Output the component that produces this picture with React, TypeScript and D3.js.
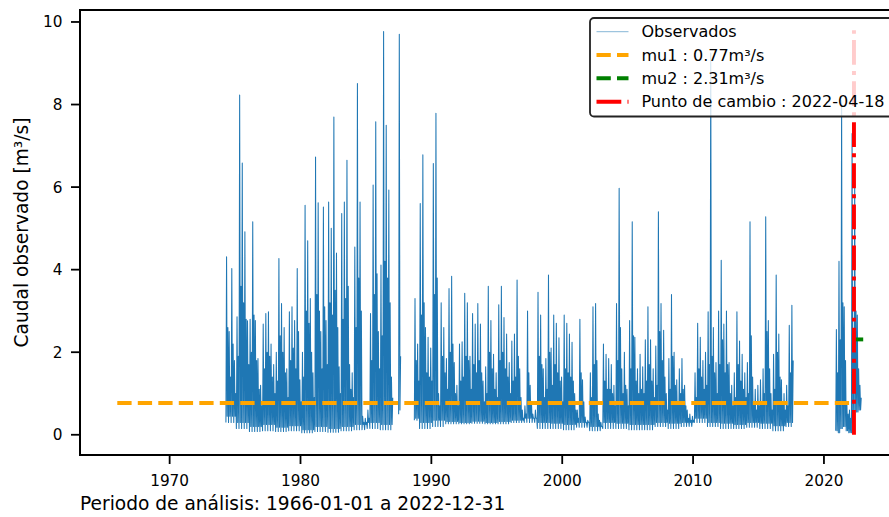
import React, { useEffect, useRef } from 'react';
import * as d3 from 'd3';

// Observed flow, 1974.3 - 2017.7, 0.2-year bins (null = no data)
const obsStart1 = 1974.3;
const binStep = 0.2;
// highest value in each bin
const peaks1: (number | null)[] = [
  4.31, 2.5, 4.03, 1.8, 2.86, 8.23, 6.58, 4.92, 2.76, 2.8,
  5.16, 2.77, 1.85, 1.2, 2.68, 2.94, 2.98, 2.2, 1.7, 2.0,
  4.27, 3.18, 2.6, 1.6, 2.98, 3.1, 2.77, 4.03, 1.33, 2.0,
  5.56, 4.7, 3.3, 1.5, 6.73, 5.62, 2.5, 5.52, 2.77, 5.64,
  5.0, 7.7, 4.4, 1.65, 5.36, 5.64, 6.65, 1.7, 1.5, 4.55,
  8.51, 5.64, 0.45, 0.4, 0.6, 2.94, 6.05, 7.58, 2.5, 4.11,
  9.77, 7.5, 5.93, 1.4, null, null, 9.7, null, null, null,
  null, null, 3.3, 2.2, 5.6, 6.78, 2.6, 2.36, 2.1, 6.57,
  7.79, 1.0, 3.2, 2.6, 1.85, 3.54, 3.84, 1.75, 1.2, 2.2,
  2.25, 3.43, 3.2, 1.9, 2.94, 2.68, 3.18, 2.68, 1.3, 1.65,
  3.6, 2.77, 1.95, 1.5, 3.15, 3.6, 2.84, 2.44, 1.75, 2.27,
  2.44, 3.75, 1.6, 0.6, 0.7, 3.0, 1.2, 0.5, 0.6, 3.45,
  2.9, 1.6, 1.85, 3.87, 2.1, 2.9, 2.7, 2.35, 1.4, 2.9,
  2.7, 2.44, 2.24, 1.0, 0.6, 2.8, 1.33, 0.43, 0.35, 1.5,
  3.1, 3.18, 0.5, 0.3, 2.2, 1.95, 1.85, 1.7, 1.2, 3.18,
  5.97, 1.6, 2.0, 1.1, 2.77, 5.16, 2.36, 1.6, 1.95, 1.65,
  2.3, 3.1, 2.3, 1.6, 2.15, 5.4, 3.18, 2.53, 1.0, 1.85,
  3.4, 2.0, 1.33, 1.6, 1.85, 1.2, 0.6, 0.5, 0.45, 1.5,
  2.7, 2.36, 1.8, 2.0, 2.98, 9.25, 2.6, 1.75, 3.0, 4.23,
  2.68, 3.0, 1.75, 1.2, 1.5, 2.98, 2.27, 1.95, 1.5, 1.75,
  5.16, 1.4, 1.1, 1.2, 1.33, 1.6, 5.28, 2.77, 1.0, 1.95,
  3.87, 2.44, 1.33, 1.0, 1.2, 2.65, 3.14,
];
// second-highest (typical high-flow) value in each bin
const cores1: (number | null)[] = [
  2.6, 1.4, 2.2, 1.0, 1.9, 3.6, 3.2, 2.8, 1.7, 2.0,
  2.9, 1.8, 1.1, 0.7, 1.6, 2.0, 1.9, 1.4, 1.0, 1.3,
  2.4, 2.0, 1.5, 0.9, 1.8, 2.1, 1.6, 2.5, 0.8, 1.4,
  3.0, 2.7, 2.0, 0.9, 3.4, 3.0, 1.6, 3.1, 1.7, 3.2,
  2.9, 3.5, 2.6, 1.0, 2.8, 3.3, 3.6, 1.1, 0.9, 2.6,
  3.8, 3.0, 0.3, 0.3, 0.4, 1.8, 3.4, 3.9, 1.6, 2.4,
  4.2, 3.8, 3.2, 0.9, null, null, 1.9, null, null, null,
  null, null, 1.8, 1.3, 2.9, 3.2, 1.5, 1.4, 1.3, 3.4,
  3.8, 0.7, 1.9, 1.5, 1.1, 2.0, 2.2, 1.0, 0.7, 1.3,
  1.4, 1.9, 1.8, 1.1, 1.7, 1.5, 1.8, 1.5, 0.8, 1.0,
  2.0, 1.6, 1.1, 0.9, 1.8, 2.0, 1.6, 1.4, 1.0, 1.3,
  1.4, 1.9, 0.9, 0.4, 0.5, 1.5, 0.8, 0.4, 0.4, 1.9,
  1.7, 0.9, 1.1, 2.0, 1.2, 1.7, 1.5, 1.3, 0.8, 1.6,
  1.5, 1.4, 1.3, 0.6, 0.4, 1.5, 0.8, 0.3, 0.3, 0.9,
  1.7, 1.8, 0.35, 0.2, 1.3, 1.1, 1.1, 1.0, 0.7, 1.8,
  2.6, 1.0, 1.2, 0.7, 1.6, 2.4, 1.3, 1.0, 1.1, 1.0,
  1.3, 1.7, 1.3, 0.9, 1.2, 2.5, 1.8, 1.4, 0.6, 1.1,
  1.9, 1.2, 0.8, 1.0, 1.1, 0.7, 0.4, 0.35, 0.35, 0.9,
  1.6, 1.4, 1.1, 1.2, 1.7, 1.9, 1.5, 1.0, 1.7, 2.3,
  1.5, 1.7, 1.0, 0.7, 0.9, 1.7, 1.3, 1.1, 0.9, 1.0,
  2.4, 0.8, 0.6, 0.7, 0.8, 1.0, 2.5, 1.6, 0.6, 1.1,
  2.0, 1.4, 0.8, 0.6, 0.7, 1.5, 1.8,
];
// yearly low flows, 1974 - 2017 (minimum and a second low)
const lowYear0 = 1974;
const lowsA = [
  0.3, 0.15, 0.08, 0.1, 0.08, 0.1, 0.05, 0.08, 0.06, 0.1,
  0.12, 0.15, 0.12, 0.5, 0.35, 0.15, 0.2, 0.27, 0.27, 0.28,
  0.27, 0.27, 0.3, 0.3, 0.15, 0.15, 0.12, 0.18, 0.1, 0.15,
  0.15, 0.12, 0.12, 0.2, 0.15, 0.2, 0.3, 0.2, 0.15, 0.15,
  0.18, 0.15, 0.1, 0.2,
];
const lowsB = [
  0.45, 0.3, 0.2, 0.25, 0.18, 0.22, 0.12, 0.2, 0.15, 0.2,
  0.25, 0.3, 0.25, 0.6, 0.4, 0.3, 0.35, 0.32, 0.3, 0.33,
  0.3, 0.32, 0.35, 0.4, 0.3, 0.28, 0.25, 0.3, 0.2, 0.3,
  0.28, 0.25, 0.25, 0.3, 0.28, 0.3, 0.4, 0.3, 0.28, 0.25,
  0.3, 0.28, 0.22, 0.3,
];
// second record, 2020.9 - 2022.9
const obsStart2 = 2020.9;
const peaks2 = [2.55, 4.2, 8.1, 3.1, 0.8, 0.6, 7.3, 6.17, 2.9, 1.2];
const cores2 = [1.5, 2.3, 3.2, 1.8, 0.5, 0.4, 2.5, 3.0, 1.6, 0.9];
const lows2 = [0.1, 0.05, 0.15, 0.2, 0.1, 0.05, 0.05, 0.6, 0.55, 0.6];

const seriesStart = 1966.0;
const seriesEnd = 2023.0;
const changePoint = 2022.295; // 2022-04-18
const mu1 = 0.77;
const mu2 = 2.31;
const obsMax = 9.8;

const xTicks = [1970, 1980, 1990, 2000, 2010, 2020];
const yTicks = [0, 2, 4, 6, 8, 10];

const legendLabels = ['Observados', 'mu1 : 0.77m³/s', 'mu2 : 2.31m³/s', 'Punto de cambio : 2022-04-18'];

type P = { t: number; v: number } | null;

export default function App() {
  const ref = useRef<SVGSVGElement>(null);

  useEffect(() => {
    const svg = d3.select(ref.current);
    svg.selectAll('*').remove();

    const W = 889, H = 517;
    const left = 80, right = 900.5, top = 10, bottom = 455;
    const font = 'DejaVu Sans, sans-serif';

    const x = d3.scaleLinear().domain([1963.15, 2025.85]).range([left, right]);
    const y = d3.scaleLinear().domain([-0.49, 10.29]).range([bottom, top]);

    svg.append('rect').attr('width', W).attr('height', H).attr('fill', '#fff');

    svg.append('defs').append('clipPath').attr('id', 'plot-clip')
      .append('rect').attr('x', left).attr('y', top).attr('width', right - left).attr('height', bottom - top);

    // observed points: low, peak, low, core in every bin
    const pts: P[] = [];
    peaks1.forEach((p, k) => {
      const t0 = obsStart1 + k * binStep;
      if (p === null) { pts.push(null); return; }
      const yi = Math.floor(t0) - lowYear0;
      const q = binStep / 4;
      pts.push(
        { t: t0, v: lowsA[yi] },
        { t: t0 + q, v: p },
        { t: t0 + 2 * q, v: lowsB[yi] },
        { t: t0 + 3 * q, v: cores1[k] as number },
      );
    });
    pts.push(null);
    peaks2.forEach((p, k) => {
      const t0 = obsStart2 + k * binStep;
      const q = binStep / 4;
      pts.push(
        { t: t0, v: lows2[k] },
        { t: t0 + q, v: p },
        { t: t0 + 2 * q, v: lows2[k] },
        { t: t0 + 3 * q, v: cores2[k] },
      );
    });

    const line = d3.line<P>()
      .defined(d => d !== null)
      .x(d => x(d!.t))
      .y(d => y(d!.v));

    const plot = svg.append('g').attr('clip-path', 'url(#plot-clip)');

    plot.append('path')
      .attr('d', line(pts))
      .attr('fill', 'none')
      .attr('stroke', '#1f77b4')
      .attr('stroke-width', 1.05)
      .attr('stroke-linejoin', 'round');

    plot.append('line')
      .attr('x1', x(seriesStart)).attr('x2', x(changePoint))
      .attr('y1', y(mu1)).attr('y2', y(mu1))
      .attr('stroke', '#ffa500').attr('stroke-width', 3.9)
      .attr('stroke-dasharray', '14.3 6.2');

    plot.append('line')
      .attr('x1', x(changePoint)).attr('x2', x(seriesEnd))
      .attr('y1', y(mu2)).attr('y2', y(mu2))
      .attr('stroke', '#008000').attr('stroke-width', 3.9)
      .attr('stroke-dasharray', '14.3 6.2');

    plot.append('line')
      .attr('x1', x(changePoint)).attr('x2', x(changePoint))
      .attr('y1', y(0)).attr('y2', y(obsMax))
      .attr('stroke', '#ff0000').attr('stroke-width', 3.9)
      .attr('stroke-dasharray', '24.8 6.2 3.9 6.2');

    // spines
    svg.append('rect')
      .attr('x', left).attr('y', top).attr('width', right - left).attr('height', bottom - top)
      .attr('fill', 'none').attr('stroke', '#000').attr('stroke-width', 2);

    // x ticks
    const xt = svg.append('g');
    xTicks.forEach(t => {
      xt.append('line').attr('x1', x(t)).attr('x2', x(t)).attr('y1', bottom).attr('y2', bottom + 9)
        .attr('stroke', '#000').attr('stroke-width', 1.8);
      xt.append('text').attr('x', x(t)).attr('y', 485.5)
        .attr('text-anchor', 'middle').attr('font-family', font).attr('font-size', 15.3)
        .attr('fill', '#000').text(d3.format('d')(t));
    });

    // y ticks
    const yt = svg.append('g');
    yTicks.forEach(t => {
      yt.append('line').attr('x1', left - 9).attr('x2', left).attr('y1', y(t)).attr('y2', y(t))
        .attr('stroke', '#000').attr('stroke-width', 1.8);
      yt.append('text').attr('x', 62.5).attr('y', y(t)).attr('dy', '0.36em')
        .attr('text-anchor', 'end').attr('font-family', font).attr('font-size', 15.3)
        .attr('fill', '#000').text(t);
    });

    svg.append('text')
      .attr('transform', 'translate(28,232.5) rotate(-90)')
      .attr('text-anchor', 'middle').attr('font-family', font).attr('font-size', 18.6)
      .attr('fill', '#000').text('Caudal observado [m³/s]');

    svg.append('text')
      .attr('x', 80).attr('y', 509.5)
      .attr('font-family', font).attr('font-size', 18.6)
      .attr('fill', '#000').text('Periodo de análisis: 1966-01-01 a 2022-12-31');

    // legend
    const lg = svg.append('g');
    lg.append('rect')
      .attr('x', 590).attr('y', 18).attr('width', 308).attr('height', 98.5)
      .attr('rx', 4).attr('fill', '#fff').attr('fill-opacity', 0.8)
      .attr('stroke', '#222').attr('stroke-width', 1.8);
    const rowY = [31.7, 55, 78.3, 101.7];
    const handle = [
      { c: '#1f77b4', w: 0.9, dash: null },
      { c: '#ffa500', w: 3.9, dash: '14.3 6.2' },
      { c: '#008000', w: 3.9, dash: '14.3 6.2' },
      { c: '#ff0000', w: 3.9, dash: '24.8 6.2 3.9 6.2' },
    ];
    legendLabels.forEach((label, i) => {
      const h = handle[i];
      const l = lg.append('line')
        .attr('x1', 596.5).attr('x2', 628.5).attr('y1', rowY[i]).attr('y2', rowY[i])
        .attr('stroke', h.c).attr('stroke-width', h.w);
      if (h.dash) l.attr('stroke-dasharray', h.dash);
      if (i === 0) l.attr('stroke-opacity', 0.6);
      lg.append('text').attr('x', 641.5).attr('y', rowY[i]).attr('dy', '0.36em')
        .attr('font-family', font).attr('font-size', 16).attr('fill', '#000').text(label);
    });
  }, []);

  return (
    <svg ref={ref} width={889} height={517}
      style={{ position: 'absolute', left: 0, top: 0, display: 'block' }} />
  );
}
